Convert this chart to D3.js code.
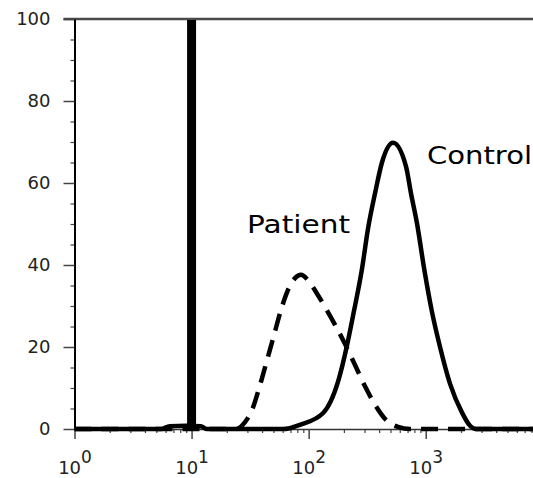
<!DOCTYPE html>
<html>
<head>
<meta charset="utf-8">
<script src="https://cdn.jsdelivr.net/npm/d3@7"></script>
<style>
  html, body { margin: 0; padding: 0; background: #fff; }
  svg { display: block; }
</style>
</head>
<body>
<svg id="chart" width="533" height="478"></svg>
<script>
// ---- data ----
const xDecades = [1, 10, 100, 1000];
const xTickExponents = ["0", "1", "2", "3"];
const yTicks = [0, 20, 40, 60, 80, 100];

const markerValue = 10;          // thick vertical gate line

const controlX = [1, 5.5, 6.5, 9, 12, 13.5, 60, 69, 84, 133, 178, 213, 240, 286, 322, 369, 423, 526, 679, 748, 844, 967, 1132, 1325, 1614, 2042, 2390, 2700, 10000];
const controlY = [0, 0, 0.7, 0.8, 0.7, 0, 0, 0.2, 1.0, 3.9, 11.5, 20.5, 27.8, 39.2, 49, 57.5, 65, 69.8, 64, 57.5, 50, 39.3, 28.5, 20, 11, 4, 0.8, 0, 0];

const patientX = [1, 24, 28.6, 32.8, 38.4, 44.1, 50.6, 58, 66.6, 76.5, 86, 98.7, 118, 141, 168, 204, 249, 303, 369, 458, 580, 735, 10000];
const patientY = [0, 0, 1.7, 4.6, 10.7, 16.8, 22.9, 29, 33.9, 36.8, 37.6, 36.3, 33.0, 29.3, 25.4, 20.8, 15.6, 10.4, 5.9, 2.2, 0.5, 0, 0];

const seriesLabels = ["Patient", "Control"];

// ---- layout ----
const svg = d3.select("#chart");
const mLeft = 74.5, mTop = 19, plotRight = 542.8, mBottom = 429;

const x = d3.scaleLog().domain([1, 10000]).range([mLeft, plotRight]);
const y = d3.scaleLinear().domain([0, 100]).range([mBottom, mTop]);

const tickFont = "DejaVu Sans, Verdana, sans-serif";

// top frame line
svg.append("line")
  .attr("x1", mLeft - 11).attr("x2", 533)
  .attr("y1", y(100)).attr("y2", y(100))
  .attr("stroke", "#4a4a4a").attr("stroke-width", 2.5);

// x axis minor ticks
const minorX = [];
for (let d = 1; d < 10000; d *= 10) for (let k = 2; k <= 9; k++) minorX.push(d * k);
const gxMinor = svg.append("g").attr("transform", `translate(0,${mBottom})`)
  .call(d3.axisBottom(x).tickValues(minorX).tickSize(4).tickFormat(""));
gxMinor.select(".domain").remove();
gxMinor.selectAll("line").attr("stroke", "#444").attr("stroke-width", 1.2);

// x axis major
const gx = svg.append("g").attr("transform", `translate(0,${mBottom})`)
  .call(d3.axisBottom(x).tickValues(xDecades).tickSize(10).tickSizeOuter(0).tickFormat(""));
gx.select(".domain").attr("stroke", "#333").attr("stroke-width", 1.5);
gx.selectAll(".tick line").attr("stroke", "#444").attr("stroke-width", 1.5);
gx.selectAll(".tick").each(function(d, i) {
  const t = d3.select(this).append("text")
    .attr("y", 45)
    .attr("text-anchor", "middle")
    .attr("fill", "#222")
    .style("font-family", tickFont)
    .style("font-size", "18px");
  t.append("tspan").text("10");
  t.append("tspan").attr("dy", -11).style("font-size", "17px").text(xTickExponents[i]);
});

// y axis minor
const minorY = d3.range(5, 100, 5).filter(v => v % 20 !== 0);
const gyMinor = svg.append("g").attr("transform", `translate(${mLeft},0)`)
  .call(d3.axisLeft(y).tickValues(minorY).tickSize(4).tickFormat(""));
gyMinor.select(".domain").remove();
gyMinor.selectAll("line").attr("stroke", "#444").attr("stroke-width", 1.2);

// y axis major
const gy = svg.append("g").attr("transform", `translate(${mLeft},0)`)
  .call(d3.axisLeft(y).tickValues(yTicks).tickSize(11).tickSizeOuter(0).tickPadding(13));
gy.select(".domain").attr("stroke", "#000").attr("stroke-width", 2);
gy.selectAll(".tick line").attr("stroke", "#444").attr("stroke-width", 1.5);
gy.selectAll(".tick text")
  .attr("fill", "#222")
  .style("font-family", tickFont)
  .style("font-size", "18px");

// curves
const line = d3.line().x(d => x(d[0])).y(d => y(d[1]))
  .curve(d3.curveMonotoneX);

svg.append("path")
  .datum(patientX.map((v, i) => [v, patientY[i]]))
  .attr("d", line)
  .attr("fill", "none").attr("stroke", "#000")
  .attr("stroke-width", 4.5)
  .attr("stroke-dasharray", "17,10");

svg.append("path")
  .datum(controlX.map((v, i) => [v, controlY[i]]))
  .attr("d", line)
  .attr("fill", "none").attr("stroke", "#000")
  .attr("stroke-width", 4.5);

// marker line
svg.append("line")
  .attr("x1", x(markerValue)).attr("x2", x(markerValue))
  .attr("y1", y(100) + 1).attr("y2", y(0))
  .attr("stroke", "#000").attr("stroke-width", 9);

// labels
const lblPos = [
  { px: 247, by: 233, w: 103 },
  { px: 427, by: 164, w: 105 }
];
svg.selectAll(".lbl").data(seriesLabels).enter().append("text")
  .attr("class", "lbl")
  .attr("x", (d, i) => lblPos[i].px)
  .attr("y", (d, i) => lblPos[i].by)
  .attr("textLength", (d, i) => lblPos[i].w)
  .attr("lengthAdjust", "spacingAndGlyphs")
  .attr("fill", "#000")
  .style("font-family", "'Comic Sans MS', 'DejaVu Sans', sans-serif")
  .style("font-size", "25px")
  .text(d => d);
</script>
</body>
</html>
